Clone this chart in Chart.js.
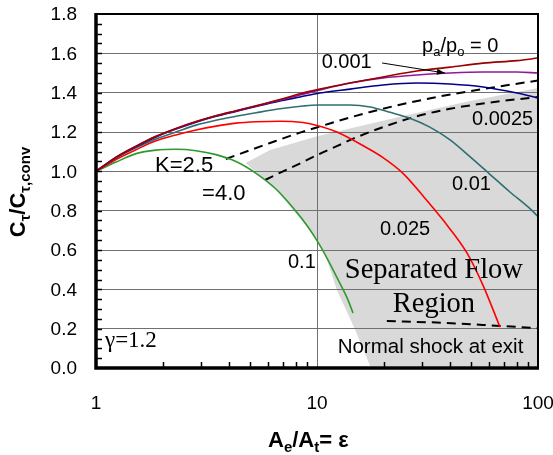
<!DOCTYPE html>
<html>
<head>
<meta charset="utf-8">
<script src="https://cdn.jsdelivr.net/npm/chart.js@4.4.1/dist/chart.umd.min.js"></script>
<style>
  html, body { margin: 0; padding: 0; background: #ffffff; }
  canvas { display: block; }
</style>
</head>
<body>
<canvas id="chart" width="553" height="455"></canvas>
<script>
// Thrust coefficient ratio Cτ/Cτ,conv versus nozzle area ratio ε, one curve per pa/po.
const eps_p0     = [1, 1.232, 1.517, 1.868, 2.30, 2.835, 3.49, 4.30, 5.30, 6.80, 8.38, 10.3, 14.1, 19.9, 28.3, 40.0, 56.4, 80.4, 100];
const cf_p0      = [1.0, 1.072, 1.128, 1.178, 1.218, 1.253, 1.283, 1.308, 1.333, 1.365, 1.395, 1.418, 1.449, 1.48, 1.51, 1.53, 1.55, 1.563, 1.576];

const eps_p0001  = [1, 1.232, 1.517, 1.868, 2.30, 2.835, 3.49, 4.30, 5.30, 6.80, 8.38, 10.3, 14.1, 19.9, 28.3, 40.0, 56.4, 80.4, 100];
const cf_p0001   = [1.0, 1.071, 1.127, 1.177, 1.217, 1.252, 1.282, 1.307, 1.332, 1.362, 1.388, 1.414, 1.449, 1.475, 1.49, 1.50, 1.505, 1.505, 1.50];

const eps_p00025 = [1, 1.232, 1.517, 1.868, 2.30, 2.835, 3.49, 4.30, 5.30, 6.80, 8.38, 10.3, 14.1, 19.9, 28.3, 40.0, 56.4, 80.4, 100];
const cf_p00025  = [1.0, 1.07, 1.125, 1.175, 1.215, 1.25, 1.28, 1.305, 1.33, 1.358, 1.378, 1.398, 1.418, 1.439, 1.449, 1.444, 1.429, 1.398, 1.373];

const eps_p001   = [1, 1.232, 1.517, 1.868, 2.30, 2.835, 3.49, 4.30, 5.30, 6.80, 8.64, 10.1, 14.1, 17.4, 21.4, 26.3, 32.4, 40.0, 49.2, 60.6, 74.6, 92, 100];
const cf_p001    = [1.0, 1.068, 1.12, 1.165, 1.2, 1.235, 1.26, 1.28, 1.298, 1.318, 1.332, 1.337, 1.337, 1.327, 1.30, 1.27, 1.225, 1.16, 1.075, 0.985, 0.895, 0.81, 0.77];

const eps_p0025  = [1, 1.232, 1.517, 1.868, 2.30, 2.835, 3.49, 4.30, 5.30, 6.80, 8.64, 10.1, 12.3, 16.2, 19.9, 24.5, 30.2, 37.2, 47.7, 56.4, 67.3];
const cf_p0025   = [1.0, 1.06, 1.11, 1.155, 1.185, 1.21, 1.23, 1.245, 1.252, 1.255, 1.248, 1.232, 1.20, 1.13, 1.07, 0.99, 0.875, 0.752, 0.585, 0.42, 0.208];

const eps_p01    = [1, 1.232, 1.517, 1.868, 2.30, 2.835, 3.49, 4.30, 5.30, 6.52, 7.79, 9.01, 10.1, 11.45, 12.7, 13.7, 14.55];
const cf_p01     = [1.0, 1.047, 1.09, 1.108, 1.112, 1.105, 1.085, 1.05, 0.99, 0.91, 0.815, 0.725, 0.64, 0.53, 0.43, 0.355, 0.28];

// Separation criteria and normal-shock-at-exit line (dashed)
const eps_k25    = [3.87, 6.13, 8.38, 10.1, 17.4, 34.8, 67.3, 100];
const cf_k25     = [1.063, 1.144, 1.197, 1.225, 1.302, 1.378, 1.432, 1.462];
const eps_k40    = [5.82, 7.02, 8.55, 10.1, 12.3, 14.5, 19.9, 28.3, 40.0, 58.9, 100];
const cf_k40     = [0.956, 1.0, 1.045, 1.085, 1.128, 1.165, 1.225, 1.28, 1.318, 1.348, 1.378];
const eps_shock  = [20.7, 38.7, 67.3, 100];
const cf_shock   = [0.239, 0.229, 0.214, 0.203];

// Outline of the separated flow region
const eps_sep    = [4.75, 6.13, 10.1, 24.5, 49.2, 100, 100, 17.4, 14.9, 12.3, 11.1, 10.1, 7.79, 6.52, 4.75];
const cf_sep     = [1.042, 1.108, 1.18, 1.281, 1.358, 1.424, 0.01, 0.01, 0.193, 0.397, 0.549, 0.651, 0.803, 0.905, 1.042];

// Axis ticks
const yTicks = [0, 0.2, 0.4, 0.6, 0.8, 1.0, 1.2, 1.4, 1.6, 1.8];
const xTicks = [1, 10, 100];

const pts = (xs, ys) => xs.map((x, i) => ({ x: x, y: ys[i] }));

const SANS = "'Liberation Sans', Arial, Helvetica, sans-serif";
const SERIF = "'Liberation Serif', 'Times New Roman', Times, serif";

function curve(xs, ys, color) {
  return {
    data: pts(xs, ys), borderColor: color, borderWidth: 1.6,
    pointRadius: 0, fill: false, cubicInterpolationMode: 'monotone'
  };
}
function dashed(xs, ys) {
  return {
    data: pts(xs, ys), borderColor: '#000000', borderWidth: 2,
    borderDash: [9, 6], pointRadius: 0, fill: false, cubicInterpolationMode: 'monotone'
  };
}

// Draws a run of text pieces [text, size, dy, family, weight]
function rich(ctx, x, y, parts, align) {
  let w = 0;
  parts.forEach(p => {
    ctx.font = (p[4] || '') + ' ' + p[1] + 'px ' + (p[3] || SANS);
    w += ctx.measureText(p[0]).width;
  });
  let cx = align === 'center' ? x - w / 2 : (align === 'right' ? x - w : x);
  ctx.textAlign = 'left';
  ctx.textBaseline = 'alphabetic';
  parts.forEach(p => {
    ctx.font = (p[4] || '') + ' ' + p[1] + 'px ' + (p[3] || SANS);
    ctx.fillText(p[0], cx, y + (p[2] || 0));
    cx += ctx.measureText(p[0]).width;
  });
}

const annotations = [
  { x: 29.9, y: 1.607, align: 'left',   parts: [['p', 20], ['a', 13, 4], ['/p', 20], ['o', 13, 4], [' = 0', 20]] },
  { x: 10.5, y: 1.525, align: 'left',   parts: [['0.001', 20]] },
  { x: 50.3, y: 1.236, align: 'left',   parts: [['0.0025', 20]] },
  { x: 40.8, y: 0.905, align: 'left',   parts: [['0.01', 20]] },
  { x: 19.3, y: 0.676, align: 'left',   parts: [['0.025', 20]] },
  { x: 7.39, y: 0.51,  align: 'left',   parts: [['0.1', 20]] },
  { x: 1.85, y: 0.997, align: 'left',   parts: [['K=2.5', 22]] },
  { x: 3.02, y: 0.854, align: 'left',   parts: [['=4.0', 22]] },
  { x: 33.8, y: 0.458, align: 'center', parts: [['Separated Flow', 28.5, 0, SERIF]] },
  { x: 33.8, y: 0.285, align: 'center', parts: [['Region', 28.5, 0, SERIF]] },
  { x: 12.4, y: 0.076, align: 'left',   parts: [['Normal shock at exit', 20.5]] },
  { x: 1.098, y: 0.107, align: 'left',  parts: [['\u03B3=1.2', 23, 0, SERIF]] }
];
const arrow = { from: [19.7, 1.551], to: [37.9, 1.50] };

const decorations = {
  id: 'decorations',
  afterDraw(chart) {
    const ctx = chart.ctx;
    const a = chart.chartArea;
    const xs = chart.scales.x, ys = chart.scales.y;
    ctx.save();
    ctx.fillStyle = '#000';
    ctx.strokeStyle = '#000';

    // minor ticks on the left axis every 0.05
    ctx.lineWidth = 1.5;
    for (let v = 0.05; v < 1.8; v += 0.05) {
      const py = Math.round(ys.getPixelForValue(v)) + 0.5;
      ctx.beginPath(); ctx.moveTo(a.left, py); ctx.lineTo(a.left + 6, py); ctx.stroke();
    }
    // minor ticks on the bottom axis for each decade
    for (const d of [1, 10]) {
      for (let k = 2; k <= 9; k++) {
        const px = Math.round(xs.getPixelForValue(d * k)) + 0.5;
        ctx.beginPath(); ctx.moveTo(px, a.bottom); ctx.lineTo(px, a.bottom - 6); ctx.stroke();
      }
    }

    // frame
    ctx.lineWidth = 2;
    ctx.beginPath();
    ctx.moveTo(a.left, a.top); ctx.lineTo(a.right, a.top); ctx.lineTo(a.right, a.bottom);
    ctx.stroke();
    ctx.lineWidth = 3.5;
    ctx.beginPath();
    ctx.moveTo(a.left, a.top - 1); ctx.lineTo(a.left, a.bottom); ctx.lineTo(a.right + 1, a.bottom);
    ctx.stroke();

    // tick labels
    ctx.font = '19px ' + SANS;
    ctx.textAlign = 'right'; ctx.textBaseline = 'middle';
    yTicks.forEach(v => ctx.fillText(v.toFixed(1), 77, ys.getPixelForValue(v) + 1));
    ctx.textAlign = 'center';
    xTicks.forEach(v => ctx.fillText(String(v), xs.getPixelForValue(v), 404));

    // axis titles
    rich(ctx, 268, 447, [['A', 22, 0, SANS, 'bold'], ['e', 15, 5, SANS, 'bold'], ['/A', 22, 0, SANS, 'bold'],
                         ['t', 15, 5, SANS, 'bold'], ['= \u03B5', 22, 0, SANS, 'bold']], 'left');
    ctx.save();
    ctx.translate(25, 192);
    ctx.rotate(-Math.PI / 2);
    rich(ctx, 0, 0, [['C', 22, 0, SANS, 'bold'], ['\u03C4', 15, 5, SANS, 'bold'], ['/C', 22, 0, SANS, 'bold'],
                     ['\u03C4,conv', 15, 5, SANS, 'bold']], 'center');
    ctx.restore();

    // curve labels and region notes
    annotations.forEach(t => rich(ctx, xs.getPixelForValue(t.x), ys.getPixelForValue(t.y), t.parts, t.align));

    // leader arrow for the 0.001 curve
    const x0 = xs.getPixelForValue(arrow.from[0]), y0 = ys.getPixelForValue(arrow.from[1]);
    const x1 = xs.getPixelForValue(arrow.to[0]),   y1 = ys.getPixelForValue(arrow.to[1]);
    ctx.lineWidth = 1;
    ctx.beginPath(); ctx.moveTo(x0, y0); ctx.lineTo(x1, y1); ctx.stroke();
    const ang = Math.atan2(y1 - y0, x1 - x0);
    ctx.beginPath();
    ctx.moveTo(x1, y1);
    ctx.lineTo(x1 - 8 * Math.cos(ang) + 3 * Math.sin(ang), y1 - 8 * Math.sin(ang) - 3 * Math.cos(ang));
    ctx.lineTo(x1 - 8 * Math.cos(ang) - 3 * Math.sin(ang), y1 - 8 * Math.sin(ang) + 3 * Math.cos(ang));
    ctx.closePath(); ctx.fill();
    ctx.restore();
  }
};

new Chart(document.getElementById('chart'), {
  type: 'line',
  data: {
    datasets: [
      curve(eps_p0, cf_p0, '#990000'),
      curve(eps_p0001, cf_p0001, '#8f1a9a'),
      curve(eps_p00025, cf_p00025, '#00008b'),
      curve(eps_p001, cf_p001, '#2f6f70'),
      curve(eps_p0025, cf_p0025, '#ff0000'),
      curve(eps_p01, cf_p01, '#2e9a2e'),
      dashed(eps_k25, cf_k25),
      dashed(eps_k40, cf_k40),
      dashed(eps_shock, cf_shock),
      {
        data: pts(eps_sep, cf_sep), borderColor: 'rgba(0,0,0,0)', borderWidth: 0,
        backgroundColor: '#d9d9d9', fill: 'shape', pointRadius: 0, tension: 0
      }
    ]
  },
  plugins: [decorations],
  options: {
    responsive: false,
    animation: false,
    events: [],
    layout: { padding: { left: 96, right: 15, top: 14, bottom: 87 } },
    plugins: {
      legend: { display: false },
      tooltip: { enabled: false },
      filler: { drawTime: 'beforeDraw' }
    },
    scales: {
      x: {
        type: 'logarithmic', min: 1, max: 100,
        border: { display: false },
        ticks: { display: false },
        grid: {
          drawTicks: false, lineWidth: 1,
          color: c => (c.tick && Math.abs(c.tick.value - 10) < 1e-6) ? '#707070' : 'rgba(0,0,0,0)'
        }
      },
      y: {
        type: 'linear', min: 0, max: 1.8,
        border: { display: false },
        ticks: { display: false, stepSize: 0.2 },
        grid: { drawTicks: false, lineWidth: 1, color: '#707070' }
      }
    }
  }
});
</script>
</body>
</html>
